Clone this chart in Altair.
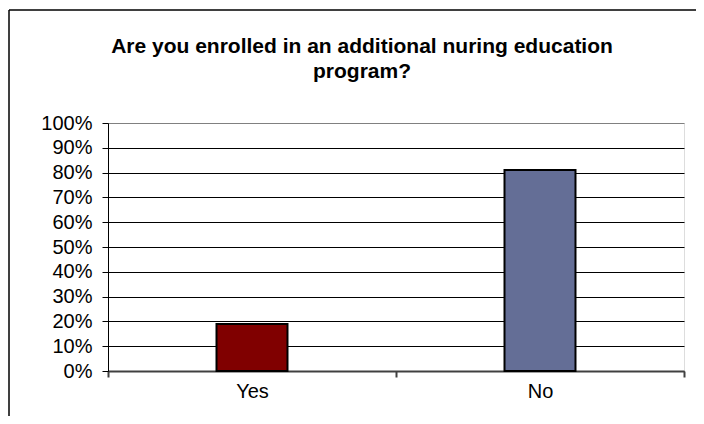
import altair as alt
import pandas as pd

categories = ["Yes", "No"]
shares = [0.19, 0.81]
bar_colors = ["#800000", "#646E96"]
y_ticks = [0, 0.1, 0.2, 0.3, 0.4, 0.5, 0.6, 0.7, 0.8, 0.9, 1.0]
title_lines = ["Are you enrolled in an additional nuring education", "program?"]

df = pd.DataFrame({"answer": categories, "share": shares})

FONT = "Liberation Sans"

bars = alt.Chart(df).mark_bar(
    width=alt.RelativeBandSize(0.2465), stroke="black", strokeWidth=2
).encode(
    x=alt.X(
        "answer:N",
        sort=categories,
        title=None,
        scale=alt.Scale(paddingInner=0, paddingOuter=0),
        axis=alt.Axis(
            labelAngle=0,
            tickBand="extent",
            tickSize=6,
            tickColor="#404040",
            tickWidth=2,
            domainColor="#404040",
            domainWidth=2,
            labelFont=FONT,
            labelFontSize=20,
            labelColor="black",
            labelPadding=4,
            grid=False,
        ),
    ),
    y=alt.Y(
        "share:Q",
        title=None,
        scale=alt.Scale(domain=[0, 1], nice=False),
        axis=alt.Axis(
            values=y_ticks,
            format=".0%",
            tickSize=6,
            tickColor="black",
            domainColor="black",
            domainWidth=1,
            labelFont=FONT,
            labelFontSize=20,
            labelColor="black",
            labelPadding=10,
            grid=True,
            gridColor={"condition": {"test": "datum.value >= 1", "value": "#808080"}, "value": "black"},
            gridWidth=1,
        ),
    ),
    color=alt.Color(
        "answer:N",
        scale=alt.Scale(domain=categories, range=bar_colors),
        legend=None,
    ),
)

frame_top = alt.Chart(df).mark_rule(color="black", strokeWidth=1).encode(
    x=alt.value(-99), x2=alt.value(800), y=alt.value(-113)
)
frame_left = alt.Chart(df).mark_rule(color="black", strokeWidth=1).encode(
    x=alt.value(-99), y=alt.value(-113), y2=alt.value(500)
)

chart = (
    alt.layer(bars, frame_top, frame_left)
    .properties(
        width=576,
        height=248,
        autosize=alt.AutoSizeParams(type="none"),
        padding={"left": 100, "top": 115, "right": 12, "bottom": 45},
        title=alt.TitleParams(
            text=title_lines,
            font=FONT,
            fontSize=21,
            fontWeight="bold",
            color="black",
            anchor="middle",
            dx=-34,
            dy=72,
            lineHeight=25,
            offset=0,
        ),
    )
    .configure_view(stroke="#808080", strokeWidth=2)
    .configure(background="white")
)

chart.save("out.html", embed_options={"renderer": "svg", "actions": False})
